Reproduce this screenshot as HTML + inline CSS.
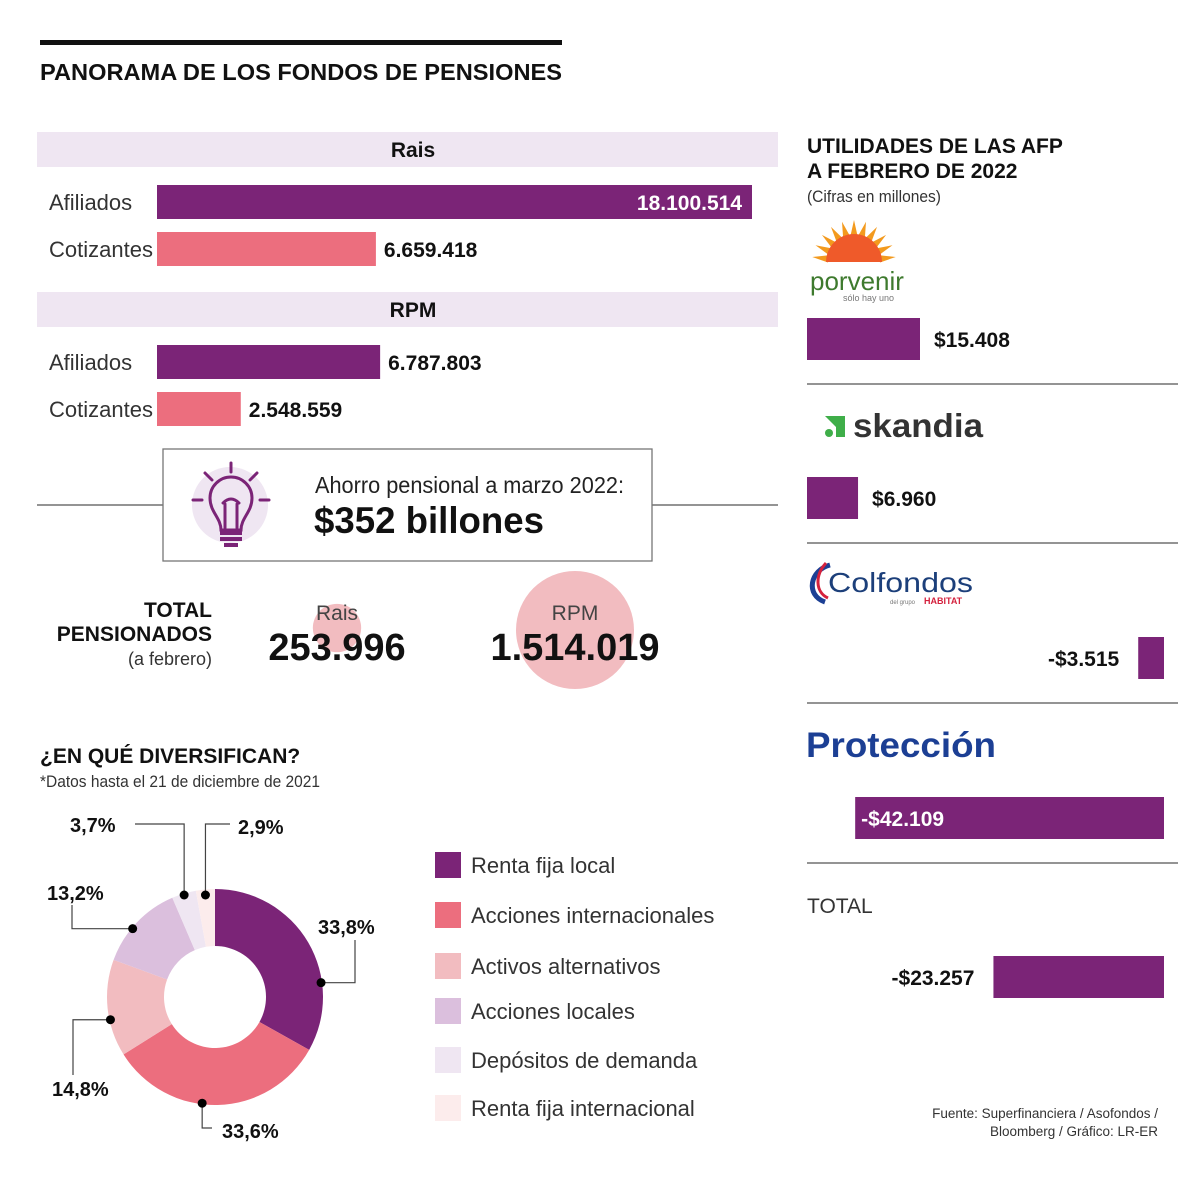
<!DOCTYPE html>
<html><head><meta charset="utf-8"><title>Panorama de los fondos de pensiones</title>
<style>
html,body{margin:0;padding:0;background:#fff;}
svg{display:block;font-family:"Liberation Sans",sans-serif;}
.b{font-weight:bold;}
</style></head>
<body>
<svg id="chart" width="1200" height="1186" viewBox="0 0 1200 1186" xmlns="http://www.w3.org/2000/svg">
  <rect x="40" y="40" width="522" height="5" fill="#111"/>
  <text x="40" y="80" font-size="23" class="b" fill="#111" textLength="522" lengthAdjust="spacingAndGlyphs">PANORAMA DE LOS FONDOS DE PENSIONES</text>

  <g id="affil"></g>

  <line x1="37" y1="505" x2="778" y2="505" stroke="#555" stroke-width="1.2"/>
  <rect x="163" y="449" width="489" height="112" fill="#fff" stroke="#777" stroke-width="1.3"/>
  <g>
    <circle cx="230" cy="505" r="38" fill="#efe6f2"/>
    <g stroke="#7b2477" stroke-width="3" fill="none" stroke-linecap="round">
      <line x1="231" y1="463" x2="231" y2="472"/>
      <line x1="205" y1="473" x2="212" y2="480"/>
      <line x1="257" y1="473" x2="250" y2="480"/>
      <line x1="193" y1="500" x2="202" y2="500"/>
      <line x1="260" y1="500" x2="269" y2="500"/>
      <path d="M221 530 C221 518 210 512 210 498 A21 21 0 0 1 252 498 C252 512 241 518 241 530 Z"/>
      <path d="M225 528 L225 504 M237 528 L237 504 M223 503 Q231 495 239 503"/>
    </g>
    <rect x="220" y="531" width="22" height="4" fill="#7b2477"/>
    <rect x="220" y="537" width="22" height="4" fill="#7b2477"/>
    <rect x="224" y="543" width="14" height="4" fill="#7b2477"/>
  </g>
  <text x="315" y="493" font-size="23" fill="#222" textLength="309" lengthAdjust="spacingAndGlyphs">Ahorro pensional a marzo 2022:</text>
  <text x="314" y="533" font-size="37" class="b" fill="#111" textLength="230" lengthAdjust="spacingAndGlyphs">$352 billones</text>

  <text x="212" y="617" font-size="21" class="b" fill="#111" text-anchor="end">TOTAL</text>
  <text x="212" y="641" font-size="21" class="b" fill="#111" text-anchor="end">PENSIONADOS</text>
  <text x="212" y="665" font-size="18" fill="#333" text-anchor="end">(a febrero)</text>
  <g id="pens"></g>

  <text x="40" y="763" font-size="21" class="b" fill="#111">¿EN QUÉ DIVERSIFICAN?</text>
  <text x="40" y="787" font-size="17" fill="#333" textLength="280" lengthAdjust="spacingAndGlyphs">*Datos hasta el 21 de diciembre de 2021</text>
  <g id="donut"></g>
  <g id="legend"></g>

  <text x="807" y="153" font-size="21" class="b" fill="#111">UTILIDADES DE LAS AFP</text>
  <text x="807" y="178" font-size="21" class="b" fill="#111">A FEBRERO DE 2022</text>
  <text x="807" y="202" font-size="17" fill="#333" textLength="134" lengthAdjust="spacingAndGlyphs">(Cifras en millones)</text>

  <g>
    <g fill="#f39a1e" id="sunrays"></g>
    <path d="M826 262 A28 28 0 0 1 882 262 Z" fill="#ef5a2a"/>
    <text x="810" y="290" font-size="26" fill="#3e7a2e">porvenir</text>
    <text x="843" y="301" font-size="9" fill="#777">sólo hay uno</text>
  </g>
  <g>
    <path d="M825 416 L845 416 L845 437 L836 437 L836 427 Z" fill="#3fae49"/>
    <circle cx="829" cy="433" r="4" fill="#3fae49"/>
    <text x="853" y="437" font-size="33" class="b" fill="#333" textLength="130" lengthAdjust="spacingAndGlyphs">skandia</text>
  </g>
  <g>
    <path d="M830 565 C810 570 805 595 825 602" stroke="#1c3f94" stroke-width="5" fill="none"/>
    <path d="M826 563 C815 575 815 592 828 598" stroke="#d4213d" stroke-width="3" fill="none"/>
    <text x="828" y="592" font-size="28" fill="#1c3f7a" textLength="145" lengthAdjust="spacingAndGlyphs">Colfondos</text>
    <text x="890" y="604" font-size="6" fill="#777">del grupo</text>
    <text x="924" y="604" font-size="9" class="b" fill="#d4213d">HABITAT</text>
  </g>
  <text x="806" y="757" font-size="35" class="b" fill="#1c3f94" textLength="190" lengthAdjust="spacingAndGlyphs">Protección</text>
  <text x="807" y="913" font-size="21" fill="#333">TOTAL</text>
  <g id="afp"></g>

  <text x="1158" y="1118" font-size="13.5" fill="#333" text-anchor="end">Fuente: Superfinanciera / Asofondos /</text>
  <text x="1158" y="1136" font-size="13.5" fill="#333" text-anchor="end">Bloomberg / Gráfico: LR-ER</text>
</svg>
<script>
// ---- data ----
const regimes = ["Rais", "RPM"];
const affiliados = [18100514, 6787803];
const cotizantes = [6659418, 2548559];
const affilLabels = ["18.100.514", "6.787.803"];
const cotizLabels = ["6.659.418", "2.548.559"];

const pensionGroups = ["Rais", "RPM"];
const pensionValues = [253996, 1514019];
const pensionLabels = ["253.996", "1.514.019"];

const donutCategories = ["Renta fija local", "Acciones internacionales", "Activos alternativos", "Acciones locales", "Depósitos de demanda", "Renta fija internacional"];
const donutValues = [33.8, 33.6, 14.8, 13.2, 3.7, 2.9];
const donutLabels = ["33,8%", "33,6%", "14,8%", "13,2%", "3,7%", "2,9%"];

const afpNames = ["Porvenir", "Skandia", "Colfondos", "Protección", "Total"];
const afpValues = [15408, 6960, -3515, -42109, -23257];
const afpLabels = ["$15.408", "$6.960", "-$3.515", "-$42.109", "-$23.257"];

const NS = "http://www.w3.org/2000/svg";
function mk(tag, attrs, parent, txt) {
  const e = document.createElementNS(NS, tag);
  for (const k in attrs) e.setAttribute(k, attrs[k]);
  if (txt !== undefined) e.textContent = txt;
  parent.appendChild(e);
  return e;
}
const PURPLE = "#7b2477", PINK = "#ec6e7e";

// ---- affiliates bars ----
const affil = document.getElementById("affil");
const xA = v => 595 * v / 18100514;
const blockTop = [132, 292];
regimes.forEach((r, i) => {
  const t = blockTop[i];
  const band = mk("rect", {x: 37, y: t, width: 741, height: 35, fill: "#efe6f2"}, affil);
  
  
  const ht = mk("text", {x: 413, y: t + 25, "font-size": 21, "font-weight": "bold", "text-anchor": "middle", fill: "#111"}, affil, r);
  
  
  const rows = [[affiliados[i], affilLabels[i], PURPLE, "Afiliados", t + 53], [cotizantes[i], cotizLabels[i], PINK, "Cotizantes", t + 100]];
  rows.forEach((row) => {
    const [v, lab, col, name, y] = row;
    const lt = mk("text", {x: 49, y: y + 25, "font-size": 22, fill: "#333"}, affil, name);
    
    
    const w = xA(v);
    const bar = mk("rect", {x: 157, y: y, width: w, height: 34, fill: col}, affil);
    
    
    const inside = w > 300;
    const vt = mk("text", {x: inside ? 157 + w - 10 : 157 + w + 8, y: y + 25, "font-size": 21, "font-weight": "bold", "text-anchor": inside ? "end" : "start", fill: inside ? "#fff" : "#111"}, affil, lab);
    
    
  });
});

// ---- pensioner bubbles ----
const pens = document.getElementById("pens");
const cxP = [337, 575], cyP = [628, 630];
const rP = v => 59 * Math.sqrt(v / 1514019);
pensionGroups.forEach((g, i) => {
  const c = mk("circle", {cx: cxP[i], cy: cyP[i], r: rP(pensionValues[i]), fill: "#f2bcc0"}, pens);
  
  
  const l = mk("text", {x: cxP[i], y: 620, "font-size": 21, "text-anchor": "middle", fill: "#444"}, pens, g);
  
  
  const v = mk("text", {x: cxP[i], y: 660, "font-size": 38, "font-weight": "bold", "text-anchor": "middle", fill: "#111"}, pens, pensionLabels[i]);
  
  
});

// ---- donut ----
const donut = document.getElementById("donut");
const colors = ["#7b2477", "#ec6e7e", "#f2bcc0", "#dbbfdd", "#efe6f2", "#fcecec"];
const CX = 215, CY = 997, R = 108, RI = 51;
const total = donutValues.reduce((a, b) => a + b, 0);
const pt = (a, r) => [CX + r * Math.sin(a), CY - r * Math.cos(a)];
const dotFrac = [0.69, 0.57, 0.38, 0.42, 0.5, 0.5];
let acc = 0;
const dotAng = [];
donutValues.forEach((v, i) => {
  const a0 = acc / total * 2 * Math.PI; acc += v;
  const a1 = acc / total * 2 * Math.PI;
  const large = (a1 - a0) > Math.PI ? 1 : 0;
  const [x0, y0] = pt(a0, R), [x1, y1] = pt(a1, R), [x2, y2] = pt(a1, RI), [x3, y3] = pt(a0, RI);
  const p = mk("path", {d: `M${x0} ${y0} A${R} ${R} 0 ${large} 1 ${x1} ${y1} L${x2} ${y2} A${RI} ${RI} 0 ${large} 0 ${x3} ${y3} Z`, fill: colors[i]}, donut);
  
  
  dotAng.push(a0 + (a1 - a0) * dotFrac[i]);
});
const callouts = [
  {path: d => `M${d[0]} ${d[1]} H355 V940`, lx: 318, ly: 934},
  {path: d => `M${d[0]} ${d[1]} V1128 H212`, lx: 222, ly: 1138},
  {path: d => `M${d[0]} ${d[1]} H73 V1075`, lx: 52, ly: 1096},
  {path: d => `M${d[0]} ${d[1]} H72 V905`, lx: 47, ly: 900},
  {path: d => `M${d[0]} ${d[1]} V824 H135`, lx: 70, ly: 832},
  {path: d => `M${d[0]} ${d[1]} V824 H230`, lx: 238, ly: 834}
];
donutValues.forEach((v, i) => {
  let d = pt(dotAng[i], R - 1);
  if (i >= 4) d = [d[0], 895];
  const co = callouts[i];
  const ln = mk("path", {d: co.path(d), stroke: "#444", "stroke-width": 1.2, fill: "none"}, donut);
  
  
  const dot = mk("circle", {cx: d[0], cy: d[1], r: 4.5, fill: "#000"}, donut);
  
  
  const t = mk("text", {x: co.lx, y: co.ly, "font-size": 20, "font-weight": "bold", fill: "#111"}, donut, donutLabels[i]);
  
  
});

// ---- legend ----
const legend = document.getElementById("legend");
const legY = [865, 915, 966, 1011, 1060, 1108];
donutCategories.forEach((c, i) => {
  const g = mk("g", {}, legend);
  
  
  mk("rect", {x: 435, y: legY[i] - 13, width: 26, height: 26, fill: colors[i]}, g);
  mk("text", {x: 471, y: legY[i] + 8, "font-size": 22, fill: "#333"}, g, c);
});

// ---- sun rays ----
const rays = document.getElementById("sunrays");
for (let k = 0; k < 11; k++) {
  const a = -Math.PI / 2 - 1.45 + k * 0.29;
  const cx = 854, cy = 262;
  const tip = [cx + 42 * Math.cos(a), cy + 42 * Math.sin(a)];
  const b1 = [cx + 26 * Math.cos(a - 0.14), cy + 26 * Math.sin(a - 0.14)];
  const b2 = [cx + 26 * Math.cos(a + 0.14), cy + 26 * Math.sin(a + 0.14)];
  mk("path", {d: `M${b1} L${tip} L${b2} Z`}, rays);
}

// ---- AFP profits ----
const afp = document.getElementById("afp");
const xU = v => 113 * Math.abs(v) / 15408;
const barTop = [318, 477, 637, 797, 956];
afpNames.forEach((n, i) => {
  const v = afpValues[i], w = xU(v), y = barTop[i];
  const x = v >= 0 ? 807 : 1164 - w;
  const bar = mk("rect", {x: x, y: y, width: w, height: 42, fill: PURPLE}, afp);
  
  
  let tx, anchor = "start", fill = "#111";
  if (v >= 0) tx = x + w + 14;
  else if (w > 250) { tx = x + 6; fill = "#fff"; }
  else { tx = x - 19; anchor = "end"; }
  const t = mk("text", {x: tx, y: y + 29, "font-size": 21, "font-weight": "bold", "text-anchor": anchor, fill: fill}, afp, afpLabels[i]);
  
  
  if (i < 4) {
    const ln = mk("line", {x1: 807, y1: y + 66, x2: 1178, y2: y + 66, stroke: "#555", "stroke-width": 1.2}, afp);
    
    
  }
});
</script>
</body></html>
